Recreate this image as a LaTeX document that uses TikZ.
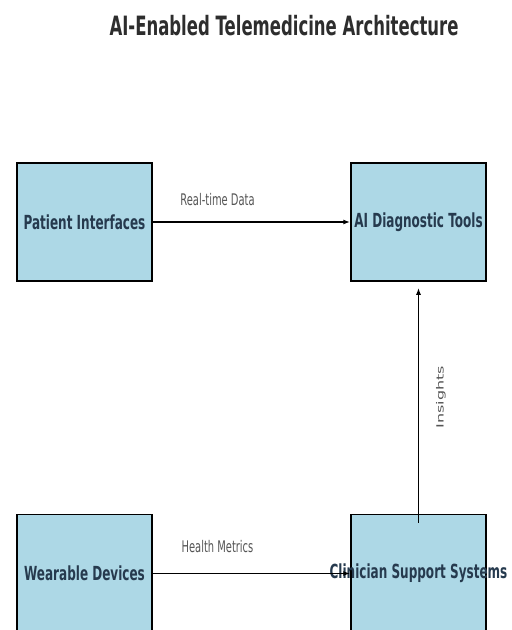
\documentclass[tikz,border=0pt]{standalone}
\usepackage{fontspec}
\newfontfamily\narrowsans{DejaVu Sans}[FakeStretch=0.62]
\newfontfamily\plainsans{DejaVu Sans}
\usetikzlibrary{arrows.meta}

\definecolor{boxblue}{RGB}{173,216,230}
\definecolor{boxtext}{RGB}{38,58,78}
\definecolor{labelgray}{RGB}{85,85,85}
\definecolor{titlegray}{RGB}{45,45,45}

\tikzset{
  block/.style={draw=black, line width=1.5pt, fill=boxblue,
    minimum width=135pt, minimum height=118pt, inner sep=0pt,
    text=boxtext, font=\narrowsans\bfseries\fontsize{19.4}{23}\selectfont},
  flow/.style={line width=1.5pt, -{Latex[length=7pt,width=5pt]}},
  flowlabel/.style={text=labelgray, font=\narrowsans\fontsize{16}{19}\selectfont},
}

\begin{document}
\begin{tikzpicture}[x=1pt,y=-1pt]
\useasboundingbox (0,0) rectangle (512,630);

\node[anchor=base, text=titlegray, font=\narrowsans\bfseries\fontsize{26.6}{32}\selectfont] (title) at (284,35) {AI-Enabled Telemedicine Architecture};

\node[block] (patient) at (84.5,222) {Patient Interfaces};
\node[block] (diagnostic) at (418.5,222) {AI Diagnostic Tools};
\node[block] (wearable) at (84.5,573.5) {Wearable Devices};
\node[block] (clinician) at (418.5,573.5) {\makebox[0pt]{Clinician Support Systems}};

\draw[flow] (patient) -- (diagnostic);
\draw[flow] (wearable) -- (clinician);
\draw[flow] ([yshift=-9pt]clinician.north) -- ([yshift=-6pt]diagnostic.south);

\node[flowlabel, anchor=base] (realtime) at (217.5,205) {Real-time Data};
\node[flowlabel, anchor=base] (metrics) at (217.5,552) {Health Metrics};
\node[text=labelgray, font=\plainsans\fontsize{16}{19}\selectfont,
  rotate=90, yscale=0.62, transform shape] (insights) at (441,397) {Insights};
\end{tikzpicture}
\end{document}
